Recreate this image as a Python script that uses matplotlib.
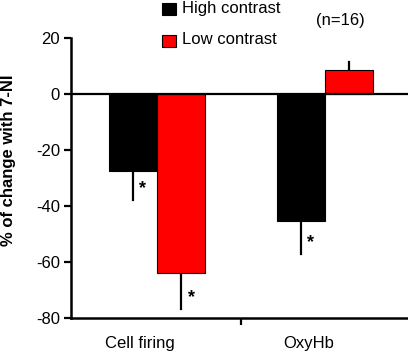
"""Bar chart: % change with 7-NI for cell firing and OxyHb."""

import matplotlib
matplotlib.use("Agg")
import matplotlib.pyplot as plt
import numpy as np

plt.rcParams["font.family"] = ["Liberation Sans", "DejaVu Sans"]
plt.rcParams["axes.unicode_minus"] = False

groups = ["Cell firing", "OxyHb"]
conditions = ["High contrast", "Low contrast"]
high_vals = [-27.5, -45.4]
high_errs = [10.4, 11.6]
low_vals = [-64.0, 8.6]
low_errs = [12.8, 2.8]
high_sig = [True, True]
low_sig = [True, False]
colors = ["#000000", "#ff0000"]

FS = 12

fig = plt.figure(figsize=(4.08, 3.52), dpi=100)
ax = fig.add_axes([0.174, 0.0966, 0.826, 0.7954])

x = np.arange(len(groups))
width = 0.288

for offset, vals, errs, sig, color in [
    (-width / 2, high_vals, high_errs, high_sig, colors[0]),
    (width / 2, low_vals, low_errs, low_sig, colors[1]),
]:
    pos = x + offset
    ax.bar(pos, vals, width, color=color, edgecolor="black", linewidth=0.8, zorder=2)
    for p, v, e, s in zip(pos, vals, errs, sig):
        end = v - e if v < 0 else v + e
        ax.plot([p, p], [v, end], color="black", linewidth=1.6, zorder=1)
        if s:
            ax.text(p + 0.06, end + 4.0, "*", fontsize=13, fontweight="bold",
                    ha="center", va="center")

ax.axhline(0, color="black", linewidth=1.6, zorder=3)

ax.set_xlim(-0.512, 1.494)
ax.set_ylim(-80, 20)
ax.set_yticks([20, 0, -20, -40, -60, -80])
ax.set_xticks([0.5])
ax.set_xticklabels([""])
ax.tick_params(axis="y", direction="out", length=5, width=1.6, labelsize=FS, pad=3)
ax.tick_params(axis="x", direction="out", length=5, width=1.6)

for side in ["top", "right"]:
    ax.spines[side].set_visible(False)
for side in ["left", "bottom"]:
    ax.spines[side].set_linewidth(1.8)

for xi, label in zip(x, groups):
    ax.text(xi - 0.1, -89, label, ha="center", va="center", fontsize=FS)

fig.text(9 / 408, 1 - 160 / 352, "% of change with 7-NI", fontsize=FS,
         fontweight="bold", rotation=90, ha="center", va="center")

# legend-like labels at the top
fig.patches.append(plt.Rectangle((162 / 408, 1 - 15 / 352), 14 / 408, 12 / 352,
                                 transform=fig.transFigure, facecolor=colors[0],
                                 edgecolor="black", linewidth=0.8))
fig.patches.append(plt.Rectangle((162 / 408, 1 - 47 / 352), 14 / 408, 12 / 352,
                                 transform=fig.transFigure, facecolor=colors[1],
                                 edgecolor="black", linewidth=0.8))
fig.text(182 / 408, 1 - 8 / 352, conditions[0], fontsize=FS, va="center")
fig.text(182 / 408, 1 - 40 / 352, conditions[1], fontsize=FS, va="center")
fig.text(340 / 408, 1 - 20 / 352, "(n=16)", fontsize=FS, va="center", ha="center")

fig.savefig("out.png", dpi=100)
